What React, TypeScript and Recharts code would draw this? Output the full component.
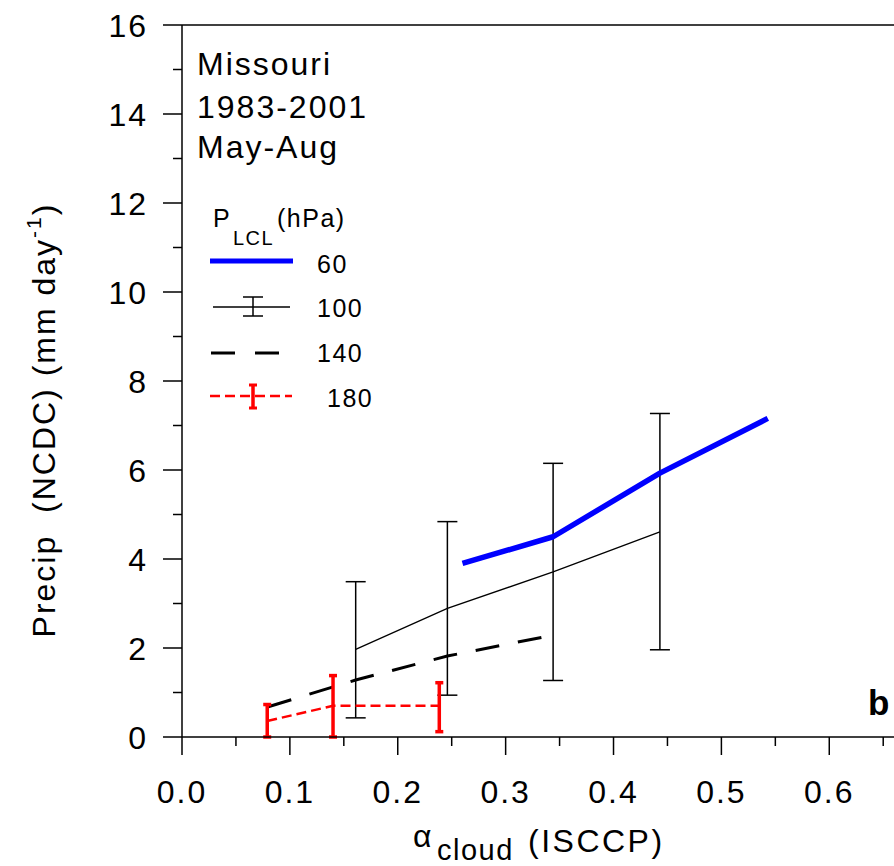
import React from "react";
import { LineChart, Line, XAxis, YAxis, ErrorBar, ReferenceLine } from "recharts";

const FONT = '"Liberation Sans", Arial, sans-serif';

// P_LCL = 60 hPa
const p60X = [0.26, 0.344, 0.443, 0.543];
const p60Y = [3.9, 4.5, 5.93, 7.16];

// P_LCL = 100 hPa (with error bars)
const p100X = [0.161, 0.246, 0.344, 0.443];
const p100Y = [1.97, 2.89, 3.71, 4.61];
const p100Low = [0.43, 0.94, 1.27, 1.96];
const p100High = [3.49, 4.84, 6.15, 7.27];

// P_LCL = 140 hPa
const p140X = [0.08, 0.161, 0.246, 0.344];
const p140Y = [0.68, 1.28, 1.82, 2.29];

// P_LCL = 180 hPa (with error bars)
const p180X = [0.079, 0.14, 0.2385];
const p180Y = [0.36, 0.7, 0.7];
const p180Low = [0, 0, 0.12];
const p180High = [0.73, 1.38, 1.22];

const xTicks = [0, 0.05, 0.1, 0.15, 0.2, 0.25, 0.3, 0.35, 0.4, 0.45, 0.5, 0.55, 0.6, 0.65];
const yTicks = [0, 1, 2, 3, 4, 5, 6, 7, 8, 9, 10, 11, 12, 13, 14, 15, 16];

const d60 = p60X.map((x, i) => ({ x, y: p60Y[i] }));
const d100 = p100X.map((x, i) => ({
  x,
  y: p100Y[i],
  err: [p100Y[i] - p100Low[i], p100High[i] - p100Y[i]],
}));
const d140 = p140X.map((x, i) => ({ x, y: p140Y[i] }));
const d180 = p180X.map((x, i) => ({
  x,
  y: p180Y[i],
  err: [p180Y[i] - p180Low[i], p180High[i] - p180Y[i]],
}));

function XTick(props: any) {
  const { x, y, payload } = props;
  const major = Math.round(payload.value * 100) % 10 === 0;
  return (
    <g>
      <line x1={x} x2={x} y1={y} y2={y + (major ? 18 : 9)} stroke="#000" strokeWidth={1.5} />
      {major && (
        <text
          x={x}
          y={y + 66}
          textAnchor="middle"
          fontSize={32}
          fontFamily={FONT}
          letterSpacing={2}
          fill="#000"
        >
          {payload.value.toFixed(1)}
        </text>
      )}
    </g>
  );
}

function YTick(props: any) {
  const { x, y, payload } = props;
  const major = payload.value % 2 === 0;
  return (
    <g>
      <line x1={x - (major ? 19 : 9)} x2={x} y1={y} y2={y} stroke="#000" strokeWidth={1.5} />
      {major && (
        <text
          x={x - 34}
          y={y + 12}
          textAnchor="end"
          fontSize={32}
          fontFamily={FONT}
          letterSpacing={2}
          fill="#000"
        >
          {payload.value}
        </text>
      )}
    </g>
  );
}

export default function App() {
  const txt = { fontFamily: FONT, fill: "#000" };
  return (
    <div style={{ position: "absolute", left: 0, top: 0, width: 894, height: 866, background: "#fff" }}>
      <LineChart width={894} height={866} margin={{ top: 25, right: 0, bottom: 0, left: 0 }}>
        <XAxis
          type="number"
          dataKey="x"
          domain={[0, 0.66]}
          ticks={xTicks}
          interval={0}
          allowDataOverflow
          height={129}
          tickLine={false}
          tickSize={0}
          tickMargin={0}
          tick={(p: any) => <XTick {...p} />}
          axisLine={{ stroke: "#000", strokeWidth: 1.5 }}
        />
        <YAxis
          type="number"
          domain={[0, 16]}
          ticks={yTicks}
          interval={0}
          allowDataOverflow
          width={182}
          tickLine={false}
          tickSize={0}
          tickMargin={0}
          tick={(p: any) => <YTick {...p} />}
          axisLine={{ stroke: "#000", strokeWidth: 1.5 }}
        />
        <ReferenceLine y={16} stroke="#000" strokeWidth={1.5} />
        <Line
          data={d140}
          dataKey="y"
          stroke="#000"
          strokeWidth={3}
          strokeDasharray="24 19"
          dot={false}
          activeDot={false}
          isAnimationActive={false}
        />
        <Line
          data={d100}
          dataKey="y"
          stroke="#000"
          strokeWidth={1.3}
          dot={false}
          activeDot={false}
          isAnimationActive={false}
        >
          <ErrorBar dataKey="err" width={10} stroke="#000" strokeWidth={1.5} direction="y" isAnimationActive={false} />
        </Line>
        <Line
          data={d60}
          dataKey="y"
          stroke="#0000ff"
          strokeWidth={5.5}
          strokeLinejoin="round"
          dot={false}
          activeDot={false}
          isAnimationActive={false}
        />
        <Line
          data={d180}
          dataKey="y"
          stroke="#ff0000"
          strokeWidth={2.5}
          strokeDasharray="10 5"
          dot={false}
          activeDot={false}
          isAnimationActive={false}
        >
          <ErrorBar dataKey="err" width={4} stroke="#ff0000" strokeWidth={3.5} direction="y" isAnimationActive={false} />
        </Line>
      </LineChart>

      <svg
        width={894}
        height={866}
        style={{ position: "absolute", left: 0, top: 0, pointerEvents: "none" }}
      >
        {/* site / period */}
        <text x={197} y={75} fontSize={32} letterSpacing={2} {...txt}>Missouri</text>
        <text x={197} y={118} fontSize={32} letterSpacing={2} {...txt}>1983-2001</text>
        <text x={197} y={158} fontSize={32} letterSpacing={2} {...txt}>May-Aug</text>

        {/* legend */}
        <text x={213} y={227} fontSize={25} letterSpacing={1.5} {...txt}>P</text>
        <text x={233} y={245} fontSize={20} letterSpacing={1.5} {...txt}>LCL</text>
        <text x={277} y={227} fontSize={25} letterSpacing={1.5} {...txt}>(hPa)</text>

        <line x1={210} x2={293} y1={261} y2={261} stroke="#0000ff" strokeWidth={5} />
        <text x={317} y={273} fontSize={25} letterSpacing={1.5} {...txt}>60</text>

        <line x1={213} x2={290} y1={307} y2={307} stroke="#000" strokeWidth={1.3} />
        <line x1={253} x2={253} y1={297} y2={316} stroke="#000" strokeWidth={1.5} />
        <line x1={243} x2={263} y1={297} y2={297} stroke="#000" strokeWidth={1.5} />
        <line x1={243} x2={263} y1={316} y2={316} stroke="#000" strokeWidth={1.5} />
        <text x={317} y={317} fontSize={25} letterSpacing={1.5} {...txt}>100</text>

        <line x1={211} x2={280} y1={353} y2={353} stroke="#000" strokeWidth={3} strokeDasharray="24 20" />
        <text x={317} y={362} fontSize={25} letterSpacing={1.5} {...txt}>140</text>

        <line x1={210} x2={292} y1={396} y2={396} stroke="#ff0000" strokeWidth={2.5} strokeDasharray="10 5" />
        <line x1={253} x2={253} y1={385} y2={408} stroke="#ff0000" strokeWidth={3.5} />
        <line x1={249} x2={257} y1={385} y2={385} stroke="#ff0000" strokeWidth={3} />
        <line x1={249} x2={257} y1={408} y2={408} stroke="#ff0000" strokeWidth={3} />
        <text x={327} y={407} fontSize={25} letterSpacing={1.5} {...txt}>180</text>

        {/* panel letter */}
        <text x={868} y={715} fontSize={35} fontWeight="bold" {...txt}>b</text>

        {/* x axis title */}
        <text x={413} y={847} fontSize={32} {...txt}>α</text>
        <text x={437} y={860} fontSize={29} letterSpacing={1.5} {...txt}>cloud</text>
        <text x={528} y={852} fontSize={32} letterSpacing={2.5} {...txt}>(ISCCP)</text>

        {/* y axis title */}
        <text
          transform="rotate(-90)"
          x={-420}
          y={55}
          textAnchor="middle"
          fontSize={32}
          letterSpacing={2}
          style={{ whiteSpace: "pre" }}
          {...txt}
        >
          {"Precip  (NCDC) (mm day"}
          <tspan dy={-14} fontSize={21}>-1</tspan>
          <tspan dy={14}>)</tspan>
        </text>
      </svg>
    </div>
  );
}
